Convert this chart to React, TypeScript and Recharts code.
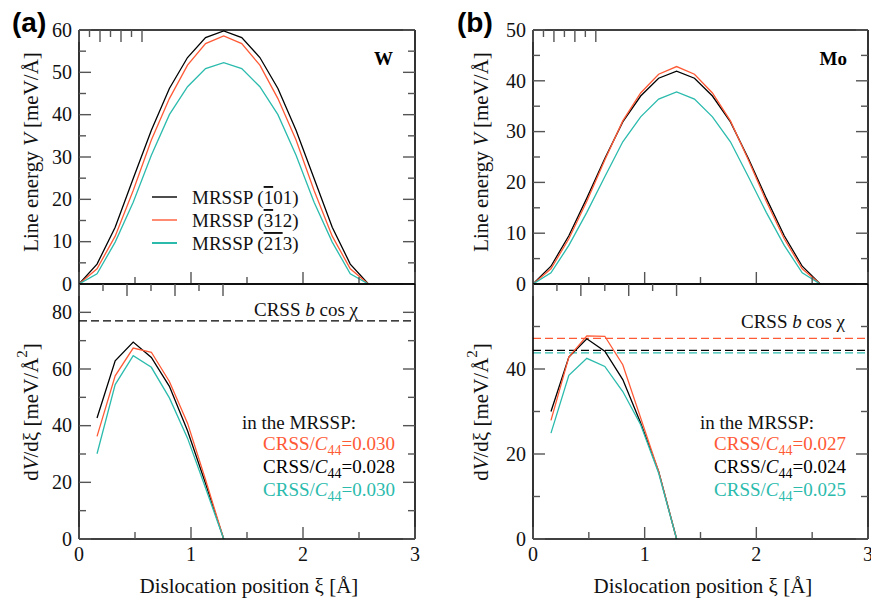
import React from "react";
import { LineChart, Line, XAxis, YAxis, ReferenceLine } from "recharts";

const SERIF = "Liberation Serif, DejaVu Serif, Noto Serif, serif";
const SANS = "Liberation Sans, Arial, sans-serif";
const BLACK = "#000000";
const RED = "#ff5a36";
const CYAN = "#2bbbad";

// dislocation positions (Å) along the Peierls path
const xiW = [0, 0.161, 0.323, 0.484, 0.646, 0.807, 0.969, 1.13, 1.292, 1.453, 1.615, 1.776, 1.938, 2.099, 2.261, 2.422, 2.584];
const xiMo = [0, 0.161, 0.321, 0.482, 0.643, 0.804, 0.964, 1.125, 1.286, 1.446, 1.607, 1.768, 1.929, 2.089, 2.25, 2.411, 2.572];

// line energy V (meV/Å), W
const vW101 = [0, 4.7, 13.4, 24.9, 36.3, 46.2, 53.5, 58.2, 59.8, 58.2, 53.5, 46.2, 36.3, 24.9, 13.4, 4.7, 0];
const vW312 = [0, 3.6, 11.3, 22.1, 34.0, 43.8, 51.7, 56.8, 58.6, 56.8, 51.7, 43.8, 34.0, 22.1, 11.3, 3.6, 0];
const vW213 = [0, 2.4, 9.9, 19.3, 30.4, 40.0, 46.6, 50.9, 52.3, 50.9, 46.6, 40.0, 30.4, 19.3, 9.9, 2.4, 0];

// line energy V (meV/Å), Mo
const vMo101 = [0, 3.5, 9.5, 16.9, 24.7, 31.9, 37.0, 40.5, 41.9, 40.5, 37.0, 31.9, 24.7, 16.9, 9.5, 3.5, 0];
const vMo312 = [0, 3.0, 8.9, 16.3, 24.4, 32.1, 37.6, 41.3, 42.8, 41.3, 37.6, 32.1, 24.4, 16.3, 8.9, 3.0, 0];
const vMo213 = [0, 2.2, 7.6, 14.1, 21.1, 28.0, 32.9, 36.4, 37.8, 36.4, 32.9, 28.0, 21.1, 14.1, 7.6, 2.2, 0];

// slope dV/dξ (meV/Å²)
const xsW = [0.161, 0.323, 0.484, 0.646, 0.807, 0.969, 1.13, 1.292];
const dW101 = [42.7, 62.9, 69.5, 64.1, 53.9, 38.2, 19.6, 0];
const dW312 = [36.2, 57.6, 67.4, 65.9, 55.6, 40.9, 20.9, 0];
const dW213 = [30.1, 54.5, 64.7, 60.6, 49.8, 35.6, 18.0, 0];

const xsMo = [0.161, 0.321, 0.482, 0.643, 0.804, 0.964, 1.125, 1.286];
const dMo101 = [30.0, 42.8, 47.1, 44.2, 37.5, 27.3, 15.9, 0];
const dMo312 = [27.9, 42.8, 47.8, 47.7, 41.0, 28.5, 15.9, 0];
const dMo213 = [24.9, 38.5, 42.5, 40.6, 34.7, 26.9, 15.5, 0];

// CRSS b cos(chi) levels
const crssW = [77];
const crssWColors = [BLACK];
const crssMo = [47.2, 44.4, 43.8];
const crssMoColors = [RED, BLACK, CYAN];

const xTicks = [0, 0.5, 1, 1.5, 2, 2.5, 3];
const xMajor = [0, 1, 2, 3];

const seriesKeys = [
  { key: "p101", color: BLACK },
  { key: "p312", color: RED },
  { key: "p213", color: CYAN },
];

const rows = (xs: number[], a: number[], b: number[], c: number[]) =>
  xs.map((xi, i) => ({ xi, p101: a[i], p312: b[i], p213: c[i] }));

type Side = "left" | "right" | "top" | "bottom";

const serif = (size: number) => ({ fontFamily: SERIF, fontSize: size });

const tickRenderer = (side: Side, major: number[], labelled: boolean) => (props: any) => {
  const { x, y, payload } = props;
  const v = payload.value;
  const isMajor = major.some((m) => Math.abs(m - v) < 1e-6);
  const len = isMajor ? 12 : 7;
  const dx = side === "left" ? len : side === "right" ? -len : 0;
  const dy = side === "top" ? len : side === "bottom" ? -len : 0;
  return (
    <g>
      <line x1={x} y1={y} x2={x + dx} y2={y + dy} stroke="#555" strokeWidth={1.4} />
      {labelled && isMajor && side === "left" && (
        <text x={x - 7} y={y} dy="0.34em" textAnchor="end" style={serif(20)} fill="#111">
          {v}
        </text>
      )}
      {labelled && isMajor && side === "bottom" && (
        <text x={x} y={y + 22} textAnchor="middle" style={serif(20)} fill="#111">
          {v}
        </text>
      )}
    </g>
  );
};

type PanelProps = {
  left: number;
  width: number;
  height: number;
  margin: { top: number; right: number; bottom: number; left: number };
  data: any[];
  yDomain: [number, number];
  yTicks: number[];
  yMajor: number[];
  xLabels: boolean;
  refs?: number[];
  refColors?: string[];
};

const Panel = (p: PanelProps) => (
  <div style={{ position: "absolute", left: p.left, top: 0 }}>
    <LineChart width={p.width} height={p.height} data={p.data} margin={p.margin}>
      <XAxis
        xAxisId="b"
        dataKey="xi"
        type="number"
        domain={[0, 3]}
        ticks={xTicks}
        interval={0}
        allowDataOverflow
        height={p.xLabels ? 40 : 2}
        tickSize={0}
        tickMargin={0}
        tickLine={false}
        axisLine={{ stroke: "#000", strokeWidth: 1.6 }}
        tick={tickRenderer("bottom", xMajor, p.xLabels)}
      />
      <XAxis
        xAxisId="t"
        orientation="top"
        type="number"
        domain={[0, 3]}
        ticks={xTicks}
        interval={0}
        allowDataOverflow
        height={2}
        tickSize={0}
        tickMargin={0}
        tickLine={false}
        axisLine={{ stroke: "#000", strokeWidth: 1.6 }}
        tick={tickRenderer("top", xMajor, false)}
      />
      <YAxis
        yAxisId="l"
        type="number"
        domain={p.yDomain}
        ticks={p.yTicks}
        interval={0}
        allowDataOverflow
        width={40}
        tickSize={0}
        tickMargin={0}
        tickLine={false}
        axisLine={{ stroke: "#000", strokeWidth: 1.6 }}
        tick={tickRenderer("left", p.yMajor, true)}
      />
      <YAxis
        yAxisId="r"
        orientation="right"
        type="number"
        domain={p.yDomain}
        ticks={p.yTicks}
        interval={0}
        allowDataOverflow
        width={2}
        tickSize={0}
        tickMargin={0}
        tickLine={false}
        axisLine={{ stroke: "#000", strokeWidth: 1.6 }}
        tick={tickRenderer("right", p.yMajor, false)}
      />
      {(p.refs || []).map((v, i) => (
        <ReferenceLine
          key={"r" + i}
          xAxisId="b"
          yAxisId="l"
          y={v}
          stroke={(p.refColors || [])[i]}
          strokeWidth={1.3}
          strokeDasharray="8 4"
        />
      ))}
      {seriesKeys.map((s) => (
        <Line
          key={s.key}
          xAxisId="b"
          yAxisId="l"
          type="linear"
          dataKey={s.key}
          stroke={s.color}
          strokeWidth={1.3}
          dot={false}
          isAnimationActive={false}
        />
      ))}
    </LineChart>
  </div>
);

const crssLine = (x: number, y: number, color: string, value: string) => (
  <text x={x} y={y} textAnchor="end" style={serif(19)} fill={color}>
    CRSS/<tspan fontStyle="italic">C</tspan>
    <tspan fontSize={14} dy={5}>44</tspan>
    <tspan dy={-5}>={value}</tspan>
  </text>
);

const Annotations = () => (
  <svg
    width={871}
    height={603}
    style={{ position: "absolute", left: 0, top: 0, pointerEvents: "none" }}
  >
    <text x={12} y={32} style={{ fontFamily: SANS, fontSize: 28, fontWeight: "bold" }} fill="#000">(a)</text>
    <text x={457} y={32} style={{ fontFamily: SANS, fontSize: 28, fontWeight: "bold" }} fill="#000">(b)</text>

    <text x={393} y={65} textAnchor="end" style={{ ...serif(19), fontWeight: "bold" }}>W</text>
    <text x={847} y={65} textAnchor="end" style={{ ...serif(19), fontWeight: "bold" }}>Mo</text>

    {[31, 481].map((cx) => (
      <text
        key={"vt" + cx}
        x={cx}
        y={152}
        transform={`rotate(-90 ${cx} 152)`}
        textAnchor="middle"
        dominantBaseline="central"
        style={serif(21)}
        fill="#111"
      >
        Line energy <tspan fontStyle="italic">V</tspan> [meV/Å]
      </text>
    ))}
    {[31, 481].map((cx) => (
      <text
        key={"dt" + cx}
        x={cx}
        y={412}
        transform={`rotate(-90 ${cx} 412)`}
        textAnchor="middle"
        dominantBaseline="central"
        style={serif(21)}
        fill="#111"
      >
        d<tspan fontStyle="italic">V</tspan>/dξ [meV/Å<tspan fontSize={15} dy={-9}>2</tspan>
        <tspan dy={9}>]</tspan>
      </text>
    ))}
    {[249, 703].map((cx) => (
      <text key={"xt" + cx} x={cx} y={593} textAnchor="middle" style={serif(21)} fill="#111">
        Dislocation position ξ [Å]
      </text>
    ))}

    {/* legend, panel (a) top */}
    <line x1={152} y1={197} x2={177} y2={197} stroke={BLACK} strokeWidth={1.4} />
    <line x1={152} y1={220} x2={177} y2={220} stroke={RED} strokeWidth={1.4} />
    <line x1={152} y1={243} x2={177} y2={243} stroke={CYAN} strokeWidth={2} />
    <text x={192} y={204} style={serif(19)} fill="#111">
      MRSSP (<tspan style={{ textDecoration: "overline" }}>1</tspan>01)
    </text>
    <text x={192} y={227} style={serif(19)} fill="#111">
      MRSSP (<tspan style={{ textDecoration: "overline" }}>3</tspan>12)
    </text>
    <text x={192} y={250} style={serif(19)} fill="#111">
      MRSSP (<tspan style={{ textDecoration: "overline" }}>21</tspan>3)
    </text>

    {/* panel (a) bottom */}
    <text x={254} y={316} style={serif(19)} fill="#111">
      CRSS <tspan fontStyle="italic">b</tspan> cos χ
    </text>
    <text x={242} y={429} style={serif(19)} fill="#111">in the MRSSP:</text>
    {crssLine(395, 450, RED, "0.030")}
    {crssLine(395, 473, BLACK, "0.028")}
    {crssLine(395, 496, CYAN, "0.030")}

    {/* panel (b) bottom */}
    <text x={741} y={328} style={serif(19)} fill="#111">
      CRSS <tspan fontStyle="italic">b</tspan> cos χ
    </text>
    <text x={700} y={429} style={serif(19)} fill="#111">in the MRSSP:</text>
    {crssLine(846, 450, RED, "0.027")}
    {crssLine(846, 473, BLACK, "0.024")}
    {crssLine(846, 496, CYAN, "0.025")}
  </svg>
);

export default function App() {
  const topW = rows(xiW, vW101, vW312, vW213);
  const topMo = rows(xiMo, vMo101, vMo312, vMo213);
  const botW = rows(xsW, dW101, dW312, dW213);
  const botMo = rows(xsMo, dMo101, dMo312, dMo213);

  return (
    <div style={{ position: "absolute", left: 0, top: 0, width: 871, height: 603, background: "#fff", overflow: "hidden" }}>
      <Panel
        left={0}
        width={435}
        height={300}
        margin={{ top: 28, right: 18, bottom: 14, left: 39 }}
        data={topW}
        yDomain={[0, 60]}
        yTicks={[0, 5, 10, 15, 20, 25, 30, 35, 40, 45, 50, 55, 60]}
        yMajor={[0, 10, 20, 30, 40, 50, 60]}
        xLabels={false}
      />
      <Panel
        left={0}
        width={435}
        height={603}
        margin={{ top: 282, right: 18, bottom: 24, left: 39 }}
        data={botW}
        yDomain={[0, 90]}
        yTicks={[0, 10, 20, 30, 40, 50, 60, 70, 80]}
        yMajor={[0, 20, 40, 60, 80]}
        xLabels={true}
        refs={crssW}
        refColors={crssWColors}
      />
      <Panel
        left={435}
        width={436}
        height={300}
        margin={{ top: 28, right: 1, bottom: 14, left: 58 }}
        data={topMo}
        yDomain={[0, 50]}
        yTicks={[0, 5, 10, 15, 20, 25, 30, 35, 40, 45, 50]}
        yMajor={[0, 10, 20, 30, 40, 50]}
        xLabels={false}
      />
      <Panel
        left={435}
        width={436}
        height={603}
        margin={{ top: 282, right: 1, bottom: 24, left: 58 }}
        data={botMo}
        yDomain={[0, 60]}
        yTicks={[0, 10, 20, 30, 40, 50]}
        yMajor={[0, 20, 40]}
        xLabels={true}
        refs={crssMo}
        refColors={crssMoColors}
      />
      <Annotations />
    </div>
  );
}
